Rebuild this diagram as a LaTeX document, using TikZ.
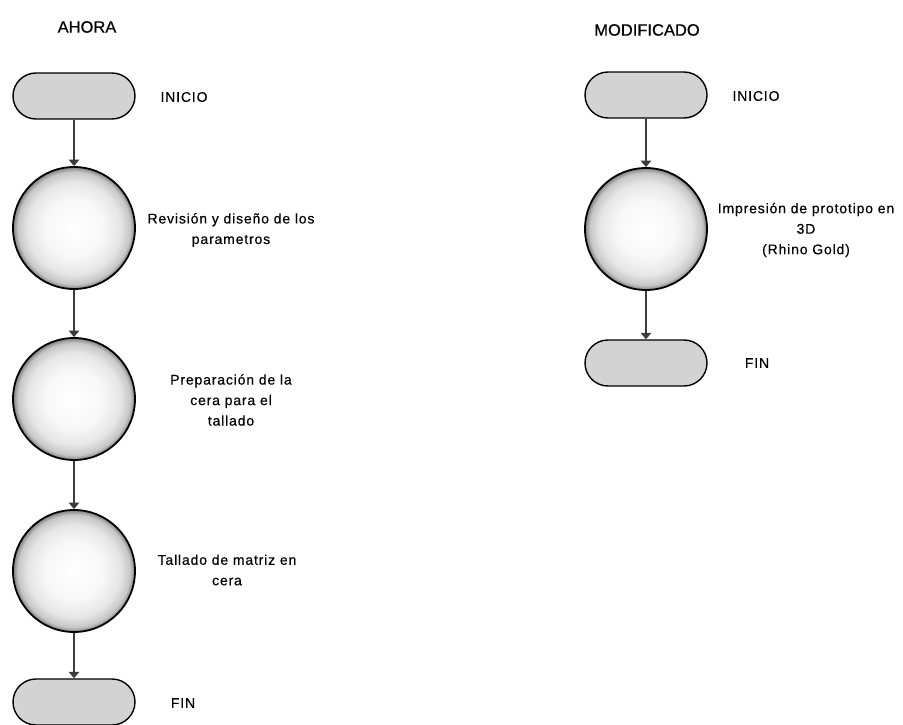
\documentclass[tikz,border=0pt]{standalone}
\usepackage{fontspec}
\setmainfont{Liberation Sans}
\newfontfamily\labfont[LetterSpace=6,FakeBold=0.4]{Liberation Sans}
\newfontfamily\titfont[FakeBold=0.4]{Liberation Sans}
\usetikzlibrary{shapes.misc,arrows.meta}
\pgfdeclareradialshading{ballshade}{\pgfpoint{0bp}{0bp}}{color(0bp)=(white); color(12bp)=(white!97!black); color(19bp)=(white!90!black); color(23bp)=(white!78!black); color(25bp)=(white!50!black); color(50bp)=(white!50!black)}
\definecolor{pillgray}{HTML}{D3D3D3}
\definecolor{arrowgray}{HTML}{3C3C3C}
\begin{document}
\begin{tikzpicture}[x=1pt,y=-1pt,
  pill/.style={rounded rectangle, draw=black, line width=1.4pt, fill=pillgray, minimum width=122pt, minimum height=46pt, inner sep=0pt},
  ball/.style={circle, draw=black, line width=1.8pt, shading=ballshade, minimum size=122pt, inner sep=0pt},
  lab/.style={font=\labfont\fontsize{14}{20.5}\selectfont, align=center, inner sep=0pt},
  title/.style={font=\titfont\fontsize{16.5}{19}\selectfont, inner sep=0pt},
  flow/.style={draw=arrowgray, line width=1.3pt, -{Triangle[width=10.5pt,length=6.5pt]}}]
\useasboundingbox (0,0) rectangle (903,725);

% left column
\node[title] (tA) at (87,27) {AHORA};
\node[pill] (a0) at (74,96) {};
\node[ball] (a1) at (74,228) {};
\node[ball] (a2) at (74,399) {};
\node[ball] (a3) at (74,571) {};
\node[pill] (a4) at (74,702) {};
\node[lab] (l0) at (184,97) {INICIO};
\node[lab] (l1) at (231,230) {Revisión y diseño de los\\parametros};
\node[lab] (l2) at (231,400) {Preparación de la\\cera para el\\tallado};
\node[lab] (l3) at (227,570) {Tallado de matriz en\\cera};
\node[lab] (l4) at (183,703) {FIN};
\draw[flow] (a0) -- (a1);
\draw[flow] (a1) -- (a2);
\draw[flow] (a2) -- (a3);
\draw[flow] (a3) -- (a4);

% right column
\node[title] (tB) at (647,30) {MODIFICADO};
\node[pill] (b0) at (646,95) {};
\node[ball] (b1) at (646,229) {};
\node[pill] (b2) at (646,363) {};
\node[lab] (m0) at (756,96) {INICIO};
\node[lab] (m1) at (806,230) {Impresión de prototipo en\\3D\\(Rhino Gold)};
\node[lab] (m2) at (757,363) {FIN};
\draw[flow] (b0) -- (b1);
\draw[flow] (b1) -- (b2);
\end{tikzpicture}
\end{document}
